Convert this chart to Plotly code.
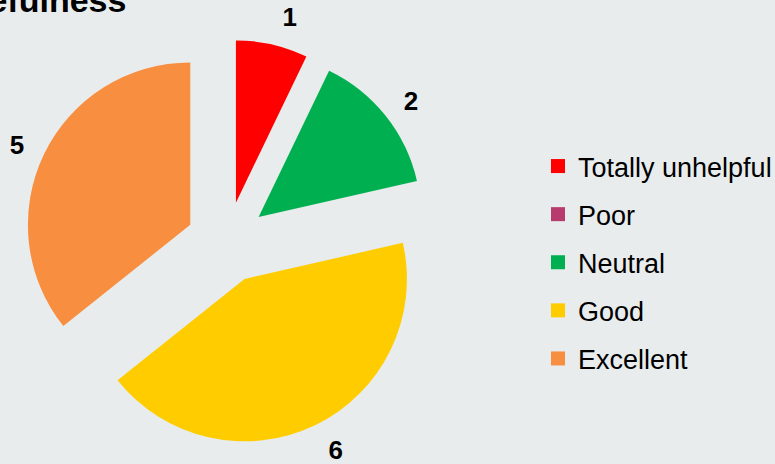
import plotly.graph_objects as go

# Data
categories = ["Totally unhelpful", "Poor", "Neutral", "Good", "Excellent"]
values = [1, 0, 2, 6, 5]
colors = ["#FF0000", "#B83B6E", "#00B050", "#FFCC00", "#F88E3F"]
title_text = "Usefulness"

BG = "#E9ECED"
FONT = "Liberation Sans, Arial, sans-serif"

labels_text = [str(v) if v else "" for v in values]
PULL = 0.25

fig = go.Figure()

# visible pie
fig.add_trace(go.Pie(
    labels=categories,
    values=values,
    textinfo="none",
    marker=dict(colors=colors, line=dict(width=0)),
    sort=False,
    direction="clockwise",
    rotation=0,
    pull=[PULL] * len(values),
    hoverinfo="label+value",
    showlegend=False,
    domain=dict(x=[0.0308, 0.5547], y=[0.0401, 0.9151]),
))

# transparent companion pie carrying the value labels a bit further out
fig.add_trace(go.Pie(
    labels=categories,
    values=values,
    text=labels_text,
    textinfo="text",
    textposition="outside",
    textfont=dict(family=FONT, size=26, color="#000000", weight="bold"),
    marker=dict(colors=["rgba(0,0,0,0)"] * len(values), line=dict(width=0)),
    sort=False,
    direction="clockwise",
    rotation=0,
    pull=[PULL] * len(values),
    hoverinfo="skip",
    showlegend=False,
    domain=dict(x=[0.0128, 0.5727], y=[0.0110, 0.9450]),
))

# legend entries (one per category)
for cat, col in zip(categories, colors):
    fig.add_trace(go.Scatter(
        x=[None], y=[None], mode="markers",
        marker=dict(symbol="square", size=14, color=col),
        name=cat, legendgroup=cat, showlegend=True, hoverinfo="skip",
    ))

fig.add_annotation(
    text=title_text, xref="paper", yref="paper",
    x=128 / 775, y=1 - 21 / 464, xanchor="right", yanchor="bottom",
    showarrow=False,
    font=dict(family=FONT, size=34, color="#000000", weight="bold"),
)

fig.update_layout(
    width=775, height=464,
    margin=dict(l=0, r=0, t=0, b=0, autoexpand=False),
    paper_bgcolor=BG, plot_bgcolor=BG,
    xaxis=dict(visible=False), yaxis=dict(visible=False),
    legend=dict(
        x=538 / 775, xanchor="left",
        y=1 - 142 / 464, yanchor="top",
        font=dict(family=FONT, size=27, color="#000000"),
        tracegroupgap=10,
        bgcolor="rgba(0,0,0,0)",
        borderwidth=0,
    ),
)

fig.write_html(
    "out.html",
    config={"displayModeBar": False},
    post_script="document.body.style.margin='0';",
)
